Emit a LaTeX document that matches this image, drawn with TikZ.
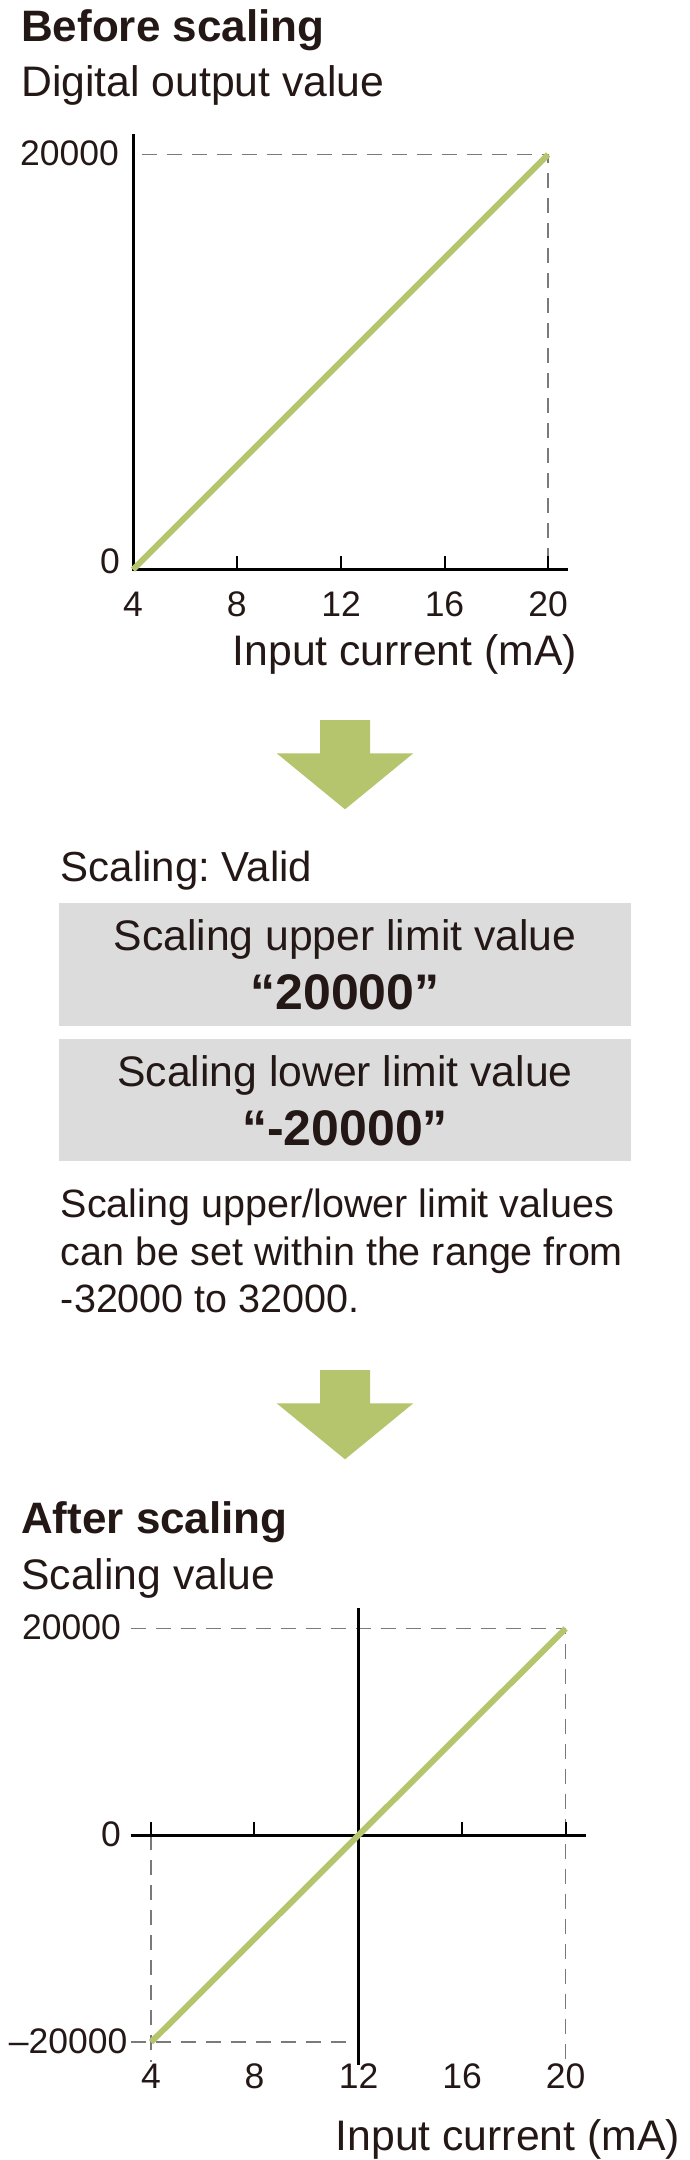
\documentclass[tikz,border=0pt]{standalone}
\usepackage{fontspec}
\setmainfont{Liberation Sans}
\begin{document}
\frenchspacing
\begin{tikzpicture}[x=1pt,y=-1pt]
\definecolor{ink}{HTML}{231815}
\definecolor{leaf}{HTML}{B4C56E}
\definecolor{boxgray}{HTML}{DCDCDC}
\definecolor{dashgray}{HTML}{7A7A7A}
\tikzset{
  txt/.style={inner sep=0pt, text=ink, font=\fontsize{42.7}{50}\selectfont},
  head/.style={inner sep=0pt, text=ink, font=\fontsize{44}{50}\selectfont\bfseries},
  num/.style={inner sep=0pt, text=ink, font=\fontsize{35.5}{40}\selectfont},
  para/.style={inner sep=0pt, text=ink, font=\fontsize{39.5}{48}\selectfont},
  big/.style={inner sep=0pt, text=ink, font=\fontsize{50}{56}\selectfont\bfseries},
  axis/.style={draw=black, line width=3pt},
  tick/.style={draw=black, line width=2pt},
  guide/.style={draw=dashgray, line width=1.5pt, dash pattern=on 15pt off 10pt},
  graph/.style={draw=leaf, line width=6pt},
  flow/.style={fill=leaf, draw=none},
  graybox/.style={fill=boxgray, draw=none, inner sep=0pt}
}
\useasboundingbox (0,0) rectangle (690,2160);

% ---------- Before scaling ----------
\node[head, anchor=base west] (t1) at (21,41) {Before scaling};
\node[txt, anchor=base west] (t1y) at (21,96) {Digital output value};

\coordinate (a0) at (133,569.5);
\coordinate (a1) at (548,154.5);
\draw[guide] (141.7,154.5) -- (a1) -- (548,556);
\draw[axis] (133,134) -- (133,571);
\draw[axis] (131.5,569.5) -- (568.3,569.5);
\foreach \x in {236.8,341.1,444.5,548} \draw[tick] (\x,569.5) -- (\x,556);
\draw[graph] (a0) -- (a1);

\node[num, anchor=base east] (y1a) at (119,165) {20000};
\node[num, anchor=base east] (y1b) at (120,573) {0};
\node[num, anchor=base] (x1a) at (133,616) {4};
\node[num, anchor=base] (x1b) at (236.8,616) {8};
\node[num, anchor=base] (x1c) at (341.1,616) {12};
\node[num, anchor=base] (x1d) at (444.5,616) {16};
\node[num, anchor=base] (x1e) at (548,616) {20};
\node[txt, anchor=base east] (x1t) at (577,665) {Input current (mA)};

% ---------- arrow 1 ----------
\fill[flow] (320,720) -- (370,720) -- (370,753.3) -- (413.3,753.3) -- (345,809.3)
  -- (276.7,753.3) -- (320,753.3) -- cycle;

% ---------- settings ----------
\node[txt, font=\fontsize{42}{50}\selectfont, anchor=base west] (sv) at (60.7,881.3) {Scaling: Valid};
\node[graybox, minimum width=572.5pt, minimum height=122.4pt] (box1) at (345,964.5) {};
\node[txt, anchor=base] (b1a) at (345,950) {Scaling upper limit value};
\node[big, anchor=base] (b1b) at (345,1009.4) {“20000”};
\node[graybox, minimum width=572.5pt, minimum height=122pt] (box2) at (345,1100.3) {};
\node[txt, anchor=base] (b2a) at (345,1086.4) {Scaling lower limit value};
\node[big, anchor=base] (b2b) at (345,1145.9) {“-20000”};

\node[para, anchor=base west] (p1) at (60.7,1217.2) {Scaling upper/lower limit values};
\node[para, anchor=base west] (p2) at (60.7,1265.6) {can be set within the range from};
\node[para, anchor=base west] (p3) at (60.7,1312.7) {-32000 to 32000.};

% ---------- arrow 2 ----------
\fill[flow] (320,1370) -- (370,1370) -- (370,1403.3) -- (413.3,1403.3) -- (345,1459.3)
  -- (276.7,1403.3) -- (320,1403.3) -- cycle;

% ---------- After scaling ----------
\node[head, anchor=base west] (t2) at (21,1533.8) {After scaling};
\node[txt, anchor=base west] (t2y) at (21,1589.7) {Scaling value};

\coordinate (b0) at (151,2042.2);
\coordinate (b1) at (565.6,1628.5);
\draw[guide] (130.7,1628.5) -- (b1) -- (565.6,2064);
\draw[guide] (130.7,2042.2) -- (348,2042.2);
\draw[guide] (151,1835.3) -- (151,2062);
\draw[axis] (358.7,1607.8) -- (358.7,2065);
\draw[axis] (130.7,1835.3) -- (586.3,1835.3);
\foreach \x in {151,254.4,462.1,565.6} \draw[tick] (\x,1835.3) -- (\x,1822);
\draw[graph] (b0) -- (b1);

\node[num, anchor=base east] (y2a) at (121,1639.5) {20000};
\node[num, anchor=base east] (y2b) at (121,1846.3) {0};
\node[num, anchor=base east] (y2c) at (127.6,2053) {–20000};
\node[num, anchor=base] (x2a) at (151,2088.4) {4};
\node[num, anchor=base] (x2b) at (254.4,2088.4) {8};
\node[num, anchor=base] (x2c) at (358.7,2088.4) {12};
\node[num, anchor=base] (x2d) at (462.1,2088.4) {16};
\node[num, anchor=base] (x2e) at (565.6,2088.4) {20};
\node[txt, anchor=base east] (x2t) at (680,2150) {Input current (mA)};
\end{tikzpicture}
\end{document}
